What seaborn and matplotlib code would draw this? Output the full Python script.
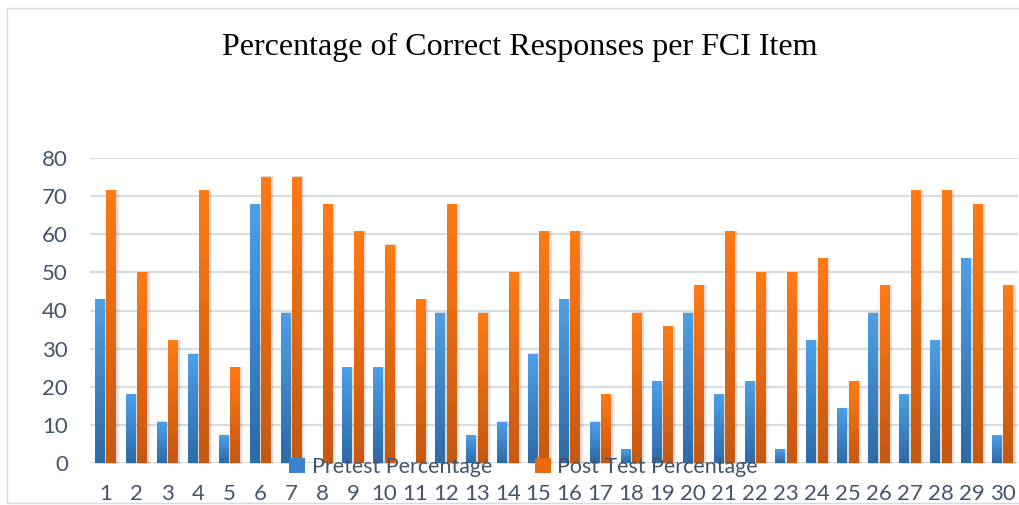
import numpy as np
import pandas as pd
import matplotlib
matplotlib.use("Agg")
import matplotlib.pyplot as plt
from matplotlib.patches import Patch, Rectangle
from matplotlib.colors import LinearSegmentedColormap
import seaborn as sns

items = [str(i) for i in range(1, 31)]
pretest = [42.86, 17.86, 10.71, 28.57, 7.14, 67.86, 39.29, 0, 25.0, 25.0,
           0, 39.29, 7.14, 10.71, 28.57, 42.86, 10.71, 3.57, 21.43, 39.29,
           17.86, 21.43, 3.57, 32.14, 14.29, 39.29, 17.86, 32.14, 53.57, 7.14]
posttest = [71.43, 50.0, 32.14, 71.43, 25.0, 75.0, 75.0, 67.86, 60.71, 57.14,
            42.86, 67.86, 39.29, 50.0, 60.71, 60.71, 17.86, 39.29, 35.71, 46.43,
            60.71, 50.0, 50.0, 53.57, 21.43, 46.43, 71.43, 71.43, 67.86, 46.43]
series = ["Pretest Percentage", "Post Test Percentage"]
yticks = [0, 10, 20, 30, 40, 50, 60, 70, 80]
title = "Percentage of Correct Responses per FCI Item"

df = pd.DataFrame({
    "Item": items * 2,
    "Value": pretest + posttest,
    "Series": [series[0]] * len(items) + [series[1]] * len(items),
})

TEXT = "#44546A"
blue_top, blue_bot = "#4DA0E8", "#2E6AA6"
orng_top, orng_bot = "#FF7B15", "#C55811"

sns.set_theme(style="white")
plt.rcParams["font.family"] = ["Lato", "DejaVu Sans"]

fig = plt.figure(figsize=(10.19, 5.05), dpi=100)
ax = fig.add_axes([90 / 1019, 1 - 463 / 505, 928 / 1019, 305 / 505])

sns.barplot(data=df, x="Item", y="Value", hue="Series", order=items,
            hue_order=series, palette=[blue_bot, orng_bot], width=0.74,
            ax=ax, legend=False, saturation=1, errorbar=None)

ax.set_ylim(0, 80)
xlim = ax.get_xlim()

cmaps = {
    0: LinearSegmentedColormap.from_list("b", [blue_bot, blue_top]),
    1: LinearSegmentedColormap.from_list("o", [orng_bot, orng_top]),
}
grad = np.linspace(0, 1, 256).reshape(-1, 1)
n = len(items)
for i, p in enumerate(list(ax.patches)):
    s = 0 if i < n else 1
    x, w, h = p.get_x(), p.get_width(), p.get_height()
    if h <= 0:
        continue
    # soft shadow
    for k, a in [(0.09, 0.035), (0.055, 0.05), (0.03, 0.06)]:
        ax.add_patch(Rectangle((x + k, -0.35), w, h + 0.55, facecolor="#000000",
                               alpha=a, lw=0, zorder=1.5, clip_on=False))
    ax.imshow(grad, cmap=cmaps[s], origin="lower", aspect="auto",
              extent=[x + 0.03, x + w - 0.03, 0, h], zorder=2.5,
              interpolation="bilinear")
    p.set_visible(False)

ax.set_xlim(xlim)
ax.set_ylim(0, 80)
ax.set_yticks(yticks)
ax.yaxis.grid(True, color="#D9DDE2", lw=1.6, zorder=0)
ax.set_axisbelow(True)
for sp in ax.spines.values():
    sp.set_visible(False)
ax.set_xlabel("")
ax.set_ylabel("")
ax.tick_params(axis="both", length=0, labelsize=16, colors=TEXT)
ax.tick_params(axis="x", pad=15)
ax.tick_params(axis="y", pad=16)

fig.text(0.51, 1 - 47 / 505, title, ha="center", va="center",
         fontsize=23, family=["Liberation Serif", "DejaVu Serif"], color="black")

handles = [Patch(facecolor="#3B84CC", edgecolor="none"),
           Patch(facecolor="#E8690F", edgecolor="none")]
fig.legend(handles, series, loc="center", bbox_to_anchor=(0.514, 1 - 467 / 505),
           ncol=2, frameon=False, fontsize=15.4, labelcolor=TEXT,
           handlelength=0.75, handleheight=0.75, handletextpad=0.3,
           columnspacing=2.0, borderaxespad=0)

# chart area border (light)
fig.add_artist(Rectangle((7 / 1019, 2 / 505), 1.0, 1 - 10 / 505, transform=fig.transFigure,
                         fill=False, edgecolor="#D9D9D9", lw=1))

fig.savefig("out.png", dpi=100)
